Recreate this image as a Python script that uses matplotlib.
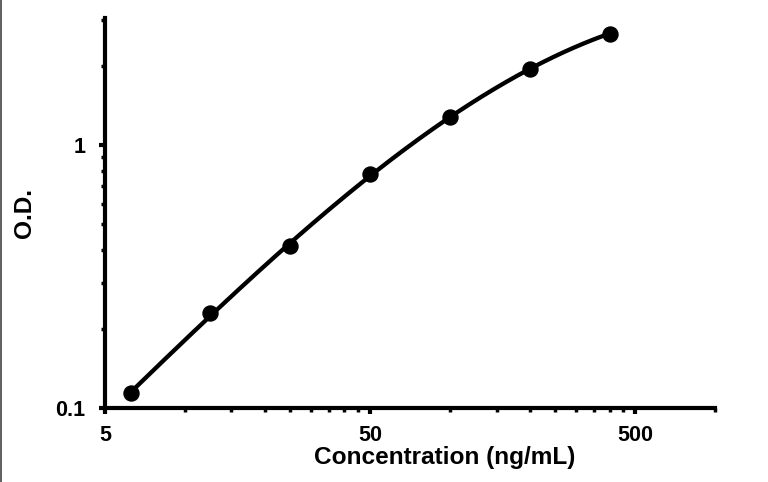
import matplotlib
matplotlib.use('Agg')
import matplotlib.pyplot as plt
import numpy as np
from matplotlib.ticker import FixedLocator, NullFormatter, FixedFormatter
from matplotlib.lines import Line2D

conc = [6.25, 12.5, 25, 50, 100, 200, 400]
od = [0.114, 0.230, 0.412, 0.774, 1.28, 1.95, 2.66]

x_major = [5, 50, 500]
x_minor = [10, 15, 20, 25, 30, 35, 40, 45, 100, 150, 200, 250, 300, 350, 400, 450, 1000]
y_major = [0.1, 1]
y_minor = [0.2, 0.3, 0.4, 0.5, 0.6, 0.7, 0.8, 0.9, 2, 3]

plt.rcParams['font.family'] = ['Liberation Sans', 'DejaVu Sans']
plt.rcParams['font.weight'] = 'bold'

fig = plt.figure(figsize=(7.68, 4.82), dpi=100)
ax = fig.add_axes([105 / 768, 1 - 408 / 482, 610 / 768, 390 / 482])

# smooth standard curve fitted in log-log space
lx = np.log10(conc)
ly = np.log10(od)
coef = np.polyfit(lx, ly, 3)
xs = np.linspace(lx[0], lx[-1], 200)
ax.plot(10 ** xs, 10 ** np.polyval(coef, xs), color='black', lw=3.1, zorder=2)
ax.plot(conc, od, 'o', color='black', ms=10.8, zorder=3)

ax.set_xscale('log')
ax.set_yscale('log')
ax.set_xlim(5, 1000)
ax.set_ylim(0.1, 3.05)

ax.xaxis.set_major_locator(FixedLocator(x_major))
ax.xaxis.set_major_formatter(FixedFormatter([str(v) for v in x_major]))
ax.xaxis.set_minor_locator(FixedLocator(x_minor))
ax.xaxis.set_minor_formatter(NullFormatter())
ax.yaxis.set_major_locator(FixedLocator(y_major))
ax.yaxis.set_major_formatter(FixedFormatter(['0.1', '1']))
ax.yaxis.set_minor_locator(FixedLocator(y_minor))
ax.yaxis.set_minor_formatter(NullFormatter())

for s in ['top', 'right']:
    ax.spines[s].set_visible(False)
for s in ['left', 'bottom']:
    ax.spines[s].set_linewidth(3)

ax.tick_params(which='major', length=4, width=3, labelsize=15.5)
ax.tick_params(which='minor', length=3, width=2.5)
ax.tick_params(axis='x', which='major', pad=8)
ax.tick_params(axis='y', which='major', pad=10)

ax.set_xlabel('Concentration (ng/mL)', fontsize=17.6, fontweight='bold')
ax.xaxis.set_label_coords((445 - 105) / 610, -(446 - 408) / 390)
ax.set_ylabel('O.D.', fontsize=17.6, fontweight='bold')
ax.yaxis.set_label_coords(-(105 - 36) / 610, 0.5)

fig.add_artist(Line2D([0.0015, 0.0015], [0, 1], transform=fig.transFigure, color='#444444', lw=1.2))

fig.savefig('out.png', dpi=100)
